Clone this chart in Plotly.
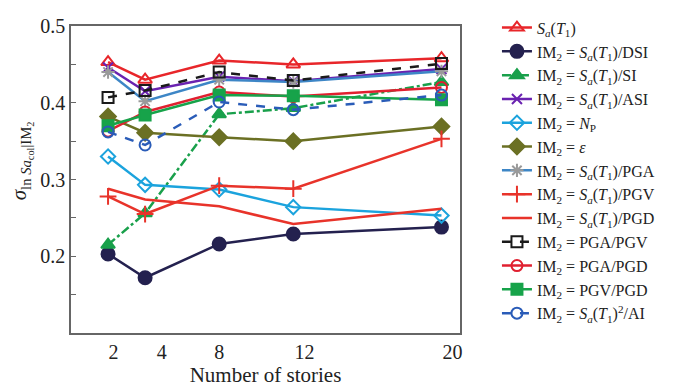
import plotly.graph_objects as go

# Number of stories of the archetype frames
stories = [2, 4, 8, 12, 20]

# Dispersion of ln Sa_col conditioned on each intensity measure
sa_t1 = [0.453, 0.430, 0.455, 0.450, 0.458]
sa_dsi = [0.203, 0.172, 0.216, 0.229, 0.238]
sa_si = [0.215, 0.256, 0.385, 0.393, 0.427]
sa_asi = [0.446, 0.415, 0.434, 0.428, 0.444]
n_p = [0.330, 0.293, 0.287, 0.264, 0.253]
eps = [0.382, 0.361, 0.355, 0.350, 0.369]
sa_pga = [0.440, 0.402, 0.430, 0.427, 0.441]
sa_pgv = [0.278, 0.255, 0.292, 0.288, 0.353]
sa_pgd = [0.288, 0.274, 0.265, 0.242, 0.262]
pga_pgv = [0.407, 0.416, 0.440, 0.429, 0.451]
pga_pgd = [0.363, 0.388, 0.414, 0.408, 0.420]
pgv_pgd = [0.370, 0.384, 0.410, 0.409, 0.404]
sa2_ai = [0.362, 0.345, 0.401, 0.391, 0.410]

x_tick_pos = [2.3, 4.9, 8.0, 12.6, 20.6]
x_tick_text = ["2", "4", "8", "12", "20"]

SERIF = "Liberation Serif, Times New Roman, serif"
SA = "<i>S</i><sub><i>a</i></sub>(<i>T</i><sub>1</sub>)"
IM2 = "IM<sub>2</sub> = "

series = [
    (SA, sa_t1, "#e8262a", "solid", "triangle-up-open", 12, None),
    (IM2 + SA + "/DSI", sa_dsi, "#24214f", "solid", "circle", 13, None),
    (IM2 + SA + "/SI", sa_si, "#19a04b", "dashdot", "triangle-up", 12, None),
    (IM2 + SA + "/ASI", sa_asi, "#6a22b0", "solid", "x-thin-open", 10, None),
    (IM2 + "<i>N</i><sub>P</sub>", n_p, "#1ba3dd", "solid", "diamond-open", 11, None),
    (IM2 + "<i>ε</i>", eps, "#6b7024", "solid", "diamond", 12, None),
    (IM2 + SA + "/PGA", sa_pga, "#3d86c6", "solid", "asterisk-open", 11, "#9a9a9a"),
    (IM2 + SA + "/PGV", sa_pgv, "#e8332a", "solid", "cross-thin-open", 12, None),
    (IM2 + SA + "/PGD", sa_pgd, "#e8332a", "solid", None, 0, None),
    (IM2 + "PGA/PGV", pga_pgv, "#1a1a1a", "dash", "square-open", 11, None),
    (IM2 + "PGA/PGD", pga_pgd, "#e02030", "solid", "circle-open", 11, None),
    (IM2 + "PGV/PGD", pgv_pgd, "#17a34a", "solid", "square", 11, None),
    (IM2 + SA + "<sup>2</sup>/AI", sa2_ai, "#2a5cb8", "dash", "circle-open", 11, None),
]

fig = go.Figure()
for name, vals, color, dash, symbol, size, mcolor in series:
    mode = "lines+markers" if symbol else "lines"
    marker = dict(symbol=symbol, size=size, color=mcolor or color,
                  line=dict(width=2, color=mcolor or color)) if symbol else None
    fig.add_trace(go.Scatter(
        x=stories, y=vals, name=name, mode=mode,
        line=dict(color=color, width=2.5, dash=dash),
        marker=marker,
    ))

axis_font = dict(family=SERIF, size=20, color="#222")

# y-axis title as a rotated annotation so it can sit a little above centre
fig.add_annotation(
    text="<i>σ</i><sub>ln <i>Sa</i><sub>col</sub>|IM<sub>2</sub></sub>",
    xref="paper", yref="paper", x=-0.128, y=0.56,
    xanchor="center", yanchor="middle", textangle=-90, showarrow=False,
    font=dict(family=SERIF, size=21, color="#222"),
)

fig.update_layout(
    width=691, height=390,
    margin=dict(l=71, r=231, t=11, b=51),
    paper_bgcolor="white", plot_bgcolor="white",
    font=dict(family=SERIF, color="#222"),
    showlegend=True,
    legend=dict(
        x=1.095, y=1.05, xanchor="left", yanchor="top",
        font=dict(family=SERIF, size=16, color="#222"),
        bgcolor="rgba(0,0,0,0)", borderwidth=0,
        tracegroupgap=0, maxheight=390,
    ),
    xaxis=dict(
        range=[0, 21], tickvals=x_tick_pos, ticktext=x_tick_text,
        showgrid=False, zeroline=False, ticks="",
        showline=True, linecolor="#666", linewidth=1.5, mirror=True,
        tickfont=axis_font,
        title=dict(text="Number of stories", font=dict(family=SERIF, size=21, color="#222"),
                   standoff=2),
    ),
    yaxis=dict(
        range=[0.1, 0.5], tickvals=[0.2, 0.3, 0.4, 0.5],
        ticktext=["0.2", "0.3", "0.4", "0.5"],
        showgrid=False, zeroline=False,
        ticks="inside", ticklen=5, tickcolor="#666",
        minor=dict(tickvals=[0.15, 0.25, 0.35, 0.45], ticks="inside",
                   ticklen=5, tickcolor="#666"),
        showline=True, linecolor="#666", linewidth=1.5, mirror=True,
        tickfont=axis_font,
    ),
)

fig.write_html("out.html")
